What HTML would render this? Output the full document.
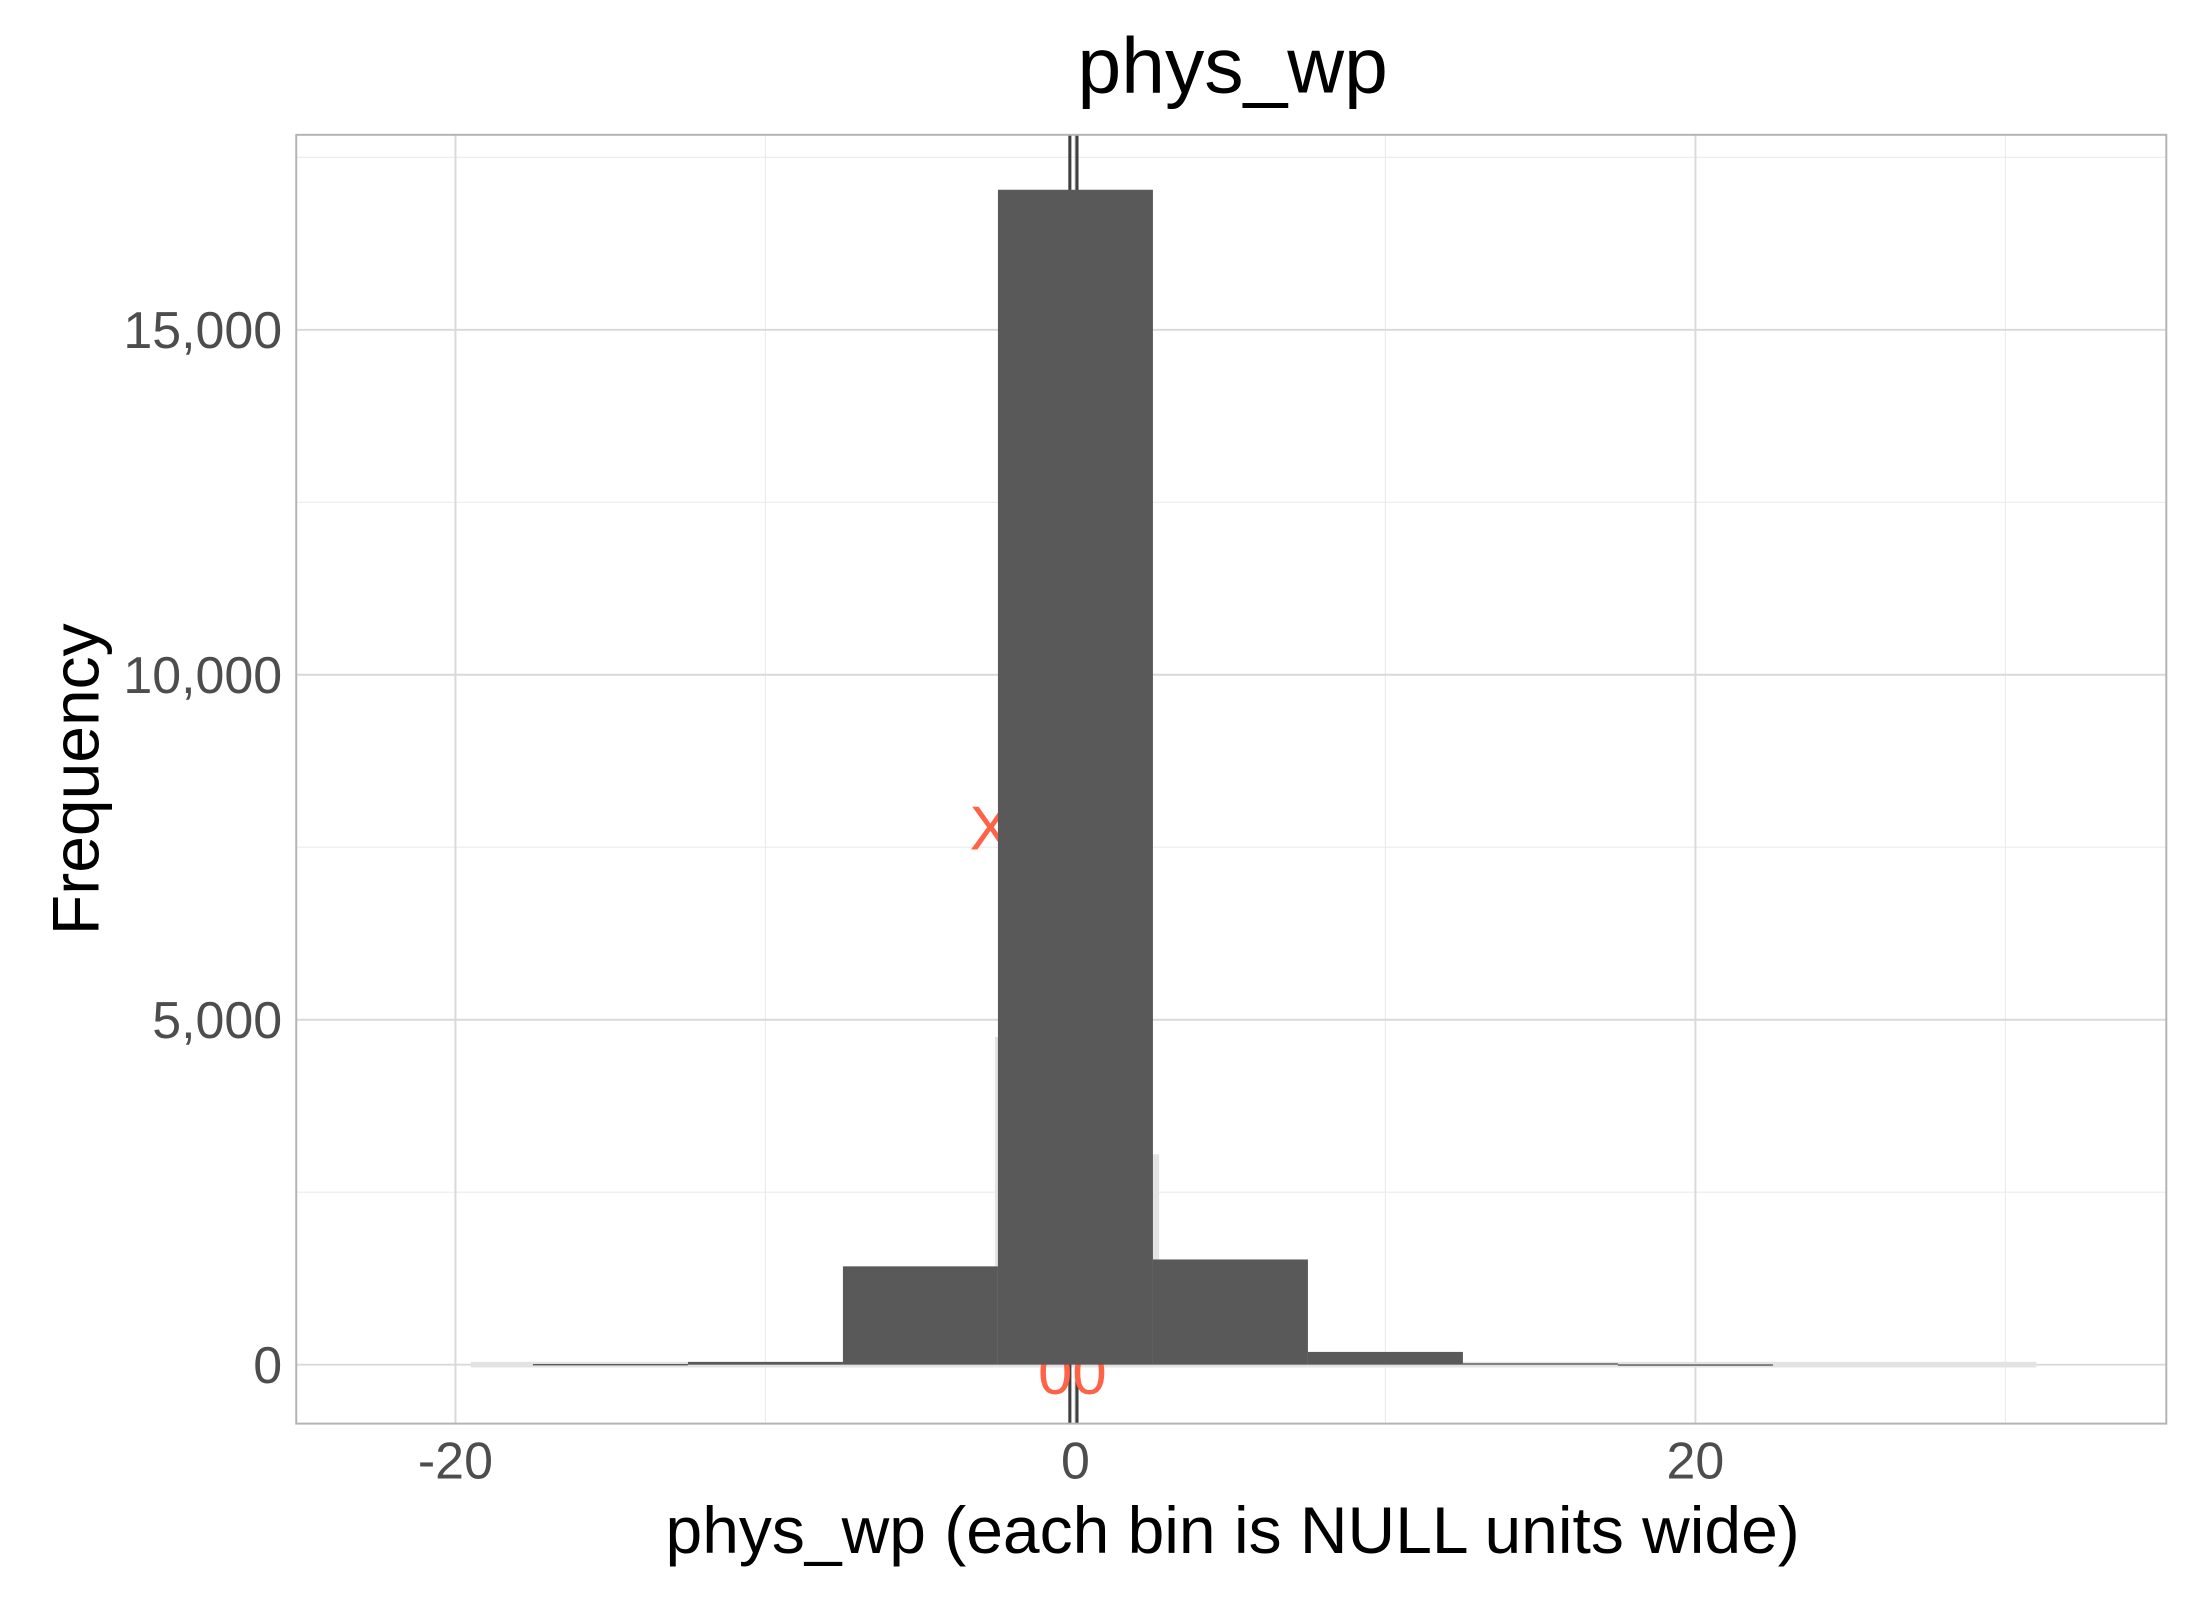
<!DOCTYPE html>
<html><head><meta charset="utf-8"><style>
html,body{margin:0;padding:0;background:#fff;width:2200px;height:1600px;overflow:hidden}
svg{display:block}
text{font-family:"Liberation Sans",Arial,sans-serif}
</style></head><body>
<svg id="chart" width="2200" height="1600" viewBox="0 0 1567 1139.6" xmlns="http://www.w3.org/2000/svg">
<g id="grid"></g>
<g id="under"></g>
<g id="bars"></g>
<rect x="211" y="96" width="1332" height="918" fill="none" stroke="#b3b3b3" stroke-width="1.4"/>
<g id="axes"></g>
<text x="878" y="66" text-anchor="middle" font-size="56" fill="#000">phys_wp</text>
<text x="878" y="1106" text-anchor="middle" font-size="47" fill="#000">phys_wp (each bin is NULL units wide)</text>
<text transform="translate(70,555) rotate(-90)" text-anchor="middle" font-size="47" fill="#000">Frequency</text>
</svg>
<script>
const binCenters = [-15, -10, -5, 0, 5, 10, 15, 20];
const binCounts = [10, 40, 1425, 17030, 1525, 185, 20, 5];
const binWidth = 5;
const xTicks = [-20, 0, 20];
const xTickLabels = ["-20", "0", "20"];
const xMinor = [-10, 10, 30];
const yTicks = [0, 5000, 10000, 15000];
const yTickLabels = ["0", "5,000", "10,000", "15,000"];
const yMinor = [2500, 7500, 12500, 17500];

const PL=211, PR=1543, PT=96, PB=1014;
function xs(v){ return 766 + v*22.08; }
function ys(v){ return 972 - v*245.7/5000; }
const NS="http://www.w3.org/2000/svg";
function mk(tag, attrs, parent){ const e=document.createElementNS(NS,tag); for(const k in attrs) e.setAttribute(k, attrs[k]); parent.appendChild(e); return e; }

const grid=document.getElementById('grid');
yMinor.forEach(v=>{ const l=mk('line',{x1:PL,x2:PR,y1:ys(v),y2:ys(v),stroke:'#ebebeb','stroke-width':0.8},grid);

 });
xMinor.forEach(v=>{ const l=mk('line',{x1:xs(v),x2:xs(v),y1:PT,y2:PB,stroke:'#ebebeb','stroke-width':0.8},grid);

 });
yTicks.forEach(v=>{ const l=mk('line',{x1:PL,x2:PR,y1:ys(v),y2:ys(v),stroke:'#d9d9d9','stroke-width':1.4},grid);

 });
xTicks.forEach(v=>{ const l=mk('line',{x1:xs(v),x2:xs(v),y1:PT,y2:PB,stroke:'#d9d9d9','stroke-width':1.4},grid);

 });

const under=document.getElementById('under');
let r=mk('rect',{x:xs(-19.5),y:ys(0)-2,width:xs(31)-xs(-19.5),height:4,fill:'#e3e3e3'},under);


r=mk('rect',{x:xs(-2.6),y:ys(4750),width:xs(0)-xs(-2.6),height:ys(0)-ys(4750),fill:'#e3e3e3'},under);


r=mk('rect',{x:xs(0),y:ys(3050),width:xs(2.7)-xs(0),height:ys(0)-ys(3050),fill:'#e3e3e3'},under);


[-0.18,0.05].forEach(v=>{ const l=mk('line',{x1:xs(v),x2:xs(v),y1:PT,y2:PB,stroke:'#404040','stroke-width':2.2},under);

 });
let t=mk('text',{x:xs(-2.75),y:605,'font-size':44,fill:'#ff6347','text-anchor':'middle'},under);
t.textContent='X';


t=mk('text',{x:xs(-0.1),y:993,'font-size':44,fill:'#ff6347','text-anchor':'middle'},under);
t.textContent='00';



const bars=document.getElementById('bars');
binCenters.forEach((c,i)=>{
  const x0=xs(c-binWidth/2), x1=xs(c+binWidth/2), y=ys(binCounts[i]);
  const b=mk('rect',{x:x0,y:y,width:x1-x0,height:Math.max(ys(0)-y,1),fill:'#595959'},bars);
  
  
});

const axes=document.getElementById('axes');
xTicks.forEach((v,i)=>{ const tt=mk('text',{x:xs(v),y:1053,'font-size':37,fill:'#4d4d4d','text-anchor':'middle'},axes);
tt.textContent=xTickLabels[i];

 });
yTicks.forEach((v,i)=>{ const tt=mk('text',{x:201,y:ys(v)+13,'font-size':37,fill:'#4d4d4d','text-anchor':'end'},axes);
tt.textContent=yTickLabels[i];

 });
</script>
</body></html>
